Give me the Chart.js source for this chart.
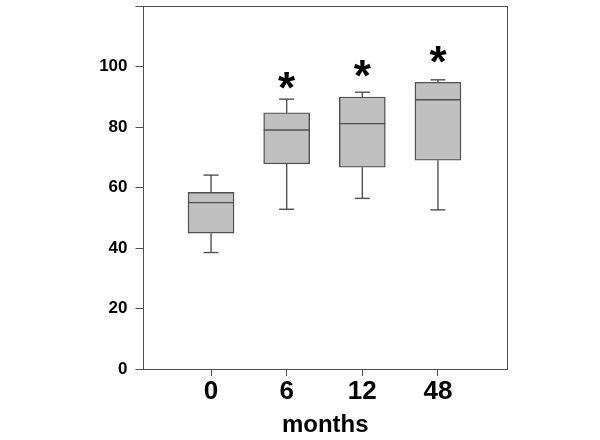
<!DOCTYPE html>
<html>
<head>
<meta charset="utf-8">
<script src="https://cdn.jsdelivr.net/npm/chart.js@4.4.1/dist/chart.umd.min.js"></script>
<style>
  html, body { margin: 0; padding: 0; background: #fff; }
</style>
</head>
<body>
<canvas id="chart" width="600" height="440"></canvas>
<script>
// box plot values
const months = ['0', '6', '12', '48'];
const whiskerLow = [38.5, 52.8, 56.4, 52.6];
const q1 = [44.9, 67.8, 66.7, 69.0];
const median = [55.0, 79.0, 81.1, 89.0];
const q3 = [58.4, 84.7, 89.9, 94.8];
const whiskerHigh = [64.1, 89.2, 91.5, 95.6];
// asterisk centres (y value), null = no mark
const starAt = [null, 95.0, 99.0, 103.5];

const edge = '#505050';
const fill = '#c0c0c0';
const boxWidth = 46;
const capWidth = 15;

const boxExtras = {
	id: 'boxExtras',
	afterDatasetsDraw(chart) {
		const { ctx, scales: { x, y }, chartArea: area } = chart;
		ctx.save();
		ctx.strokeStyle = edge;
		ctx.lineWidth = 1.4;
		const seg = (x1, y1, x2, y2) => {
			ctx.beginPath();
			ctx.moveTo(x1, y1);
			ctx.lineTo(x2, y2);
			ctx.stroke();
		};
		months.forEach((m, i) => {
			const cx = x.getPixelForValue(i);
			const yLo = y.getPixelForValue(whiskerLow[i]);
			const yHi = y.getPixelForValue(whiskerHigh[i]);
			seg(cx, y.getPixelForValue(q1[i]), cx, yLo);
			seg(cx, y.getPixelForValue(q3[i]), cx, yHi);
			seg(cx - capWidth / 2, yLo, cx + capWidth / 2, yLo);
			seg(cx - capWidth / 2, yHi, cx + capWidth / 2, yHi);
			const ym = y.getPixelForValue(median[i]);
			seg(cx - boxWidth / 2, ym, cx + boxWidth / 2, ym);

			if (starAt[i] !== null) {
				ctx.fillStyle = '#000';
				ctx.font = 'bold 44px "Liberation Sans", Arial, sans-serif';
				ctx.textAlign = 'center';
				ctx.textBaseline = 'alphabetic';
				ctx.fillText('*', cx, y.getPixelForValue(starAt[i]) + 21);
			}
		});

		// top and right edges of the frame
		ctx.lineWidth = 1;
		seg(area.left, area.top + 0.5, area.right + 0.5, area.top + 0.5);
		seg(area.right + 0.5, area.top, area.right + 0.5, area.bottom);
		ctx.restore();
	}
};

const chart = new Chart(document.getElementById('chart'), {
	type: 'bar',
	data: {
		datasets: [{
			data: months.map((m, i) => ({ x: i, y: [q1[i], q3[i]] })),
			backgroundColor: fill,
			borderColor: edge,
			borderWidth: 1.4,
			borderSkipped: false,
			barThickness: boxWidth
		}]
	},
	options: {
		responsive: false,
		devicePixelRatio: 1,
		animation: false,
		layout: { padding: { top: 6, right: 93, bottom: 0, left: 0 } },
		plugins: {
			legend: { display: false },
			tooltip: { enabled: false }
		},
		scales: {
			x: {
				type: 'linear',
				offset: false,
				min: -0.893,
				max: 3.913,
				afterBuildTicks: (scale) => {
					scale.ticks = months.map((m, i) => ({ value: i }));
				},
				afterFit: (scale) => {
					scale.height = 71;
					scale.paddingLeft = 0;
					scale.paddingRight = 0;
				},
				ticks: {
					callback: (v) => months[v],
					color: '#000',
					font: { family: '"Liberation Sans", Arial, sans-serif', size: 26, weight: 'bold' },
					padding: 0,
					maxRotation: 0
				},
				grid: { drawOnChartArea: false, offset: false, tickLength: 7, color: edge, tickColor: edge },
				border: { color: edge, width: 1 },
				title: {
					display: true,
					text: 'months',
					color: '#000',
					font: { family: '"Liberation Sans", Arial, sans-serif', size: 24, weight: 'bold' },
					padding: { top: 0, bottom: 0 }
				}
			},
			y: {
				min: 0,
				max: 120,
				afterFit: (scale) => {
					scale.width = 143.5;
					scale.paddingTop = 0;
					scale.paddingBottom = 0;
				},
				ticks: {
					stepSize: 20,
					callback: (v) => (v === 120 ? '' : v),
					color: '#000',
					font: { family: '"Liberation Sans", Arial, sans-serif', size: 17, weight: 'bold' },
					padding: 8
				},
				grid: { drawOnChartArea: false, tickLength: 8, color: edge, tickColor: edge },
				border: { color: edge, width: 1 }
			}
		}
	},
	plugins: [boxExtras]
});
</script>
</body>
</html>
